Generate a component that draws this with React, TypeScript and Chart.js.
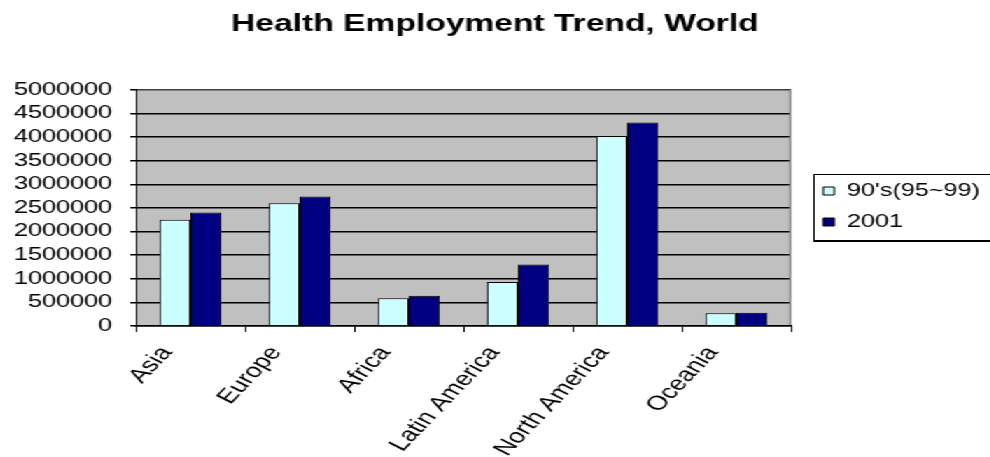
import React, { useEffect, useRef } from 'react';
import { Chart, registerables } from 'chart.js';

Chart.register(...registerables);

// ---- data ----
const categories = ['Asia', 'Europe', 'Africa', 'Latin America', 'North America', 'Oceania'];
const seriesNames = ["90's(95~99)", '2001'];
const values90s = [2250000, 2600000, 585000, 930000, 4020000, 270000];
const values2001 = [2400000, 2740000, 640000, 1300000, 4310000, 280000];
const yMin = 0;
const yMax = 5000000;
const yStep = 500000;
const titleText = 'Health Employment Trend, World';

// ---- layout / style ----
const STRETCH = 1.4;
const W = 707;
const H = 457;
const FONT = "'Liberation Sans', Arial, Helvetica, sans-serif";
const Y_AXIS_W = 97;
const X_AXIS_H = 131;
const LEGEND_W = 142;
const LEGEND_PAD = 13;
const LEGEND_LEFT = 588 - LEGEND_PAD;
const LEGEND_TOP = 169;
const LEGEND_BOX = { left: 581, top: 174, right: 730, bottom: 240 };

const decorPlugin = {
  id: 'decor',
  beforeLayout(chart: any) {
    const lg = chart.legend;
    if (lg && !lg.__patched) {
      const orig = lg.fit.bind(lg);
      lg.fit = function () {
        orig();
        this.width = LEGEND_W;
      };
      lg.__patched = true;
    }
  },
  afterLayout(chart: any) {
    const lg = chart.legend;
    if (lg) {
      lg.left = LEGEND_LEFT;
      lg.top = LEGEND_TOP;
    }
  },
  beforeDraw(chart: any) {
    const { ctx, chartArea: a } = chart;
    ctx.save();
    ctx.fillStyle = '#ffffff';
    ctx.fillRect(0, 0, chart.width, chart.height);
    ctx.fillStyle = '#c0c0c0';
    ctx.fillRect(a.left, a.top, a.right - a.left, a.bottom - a.top);
    // legend frame
    const b = LEGEND_BOX;
    ctx.fillStyle = '#ffffff';
    ctx.fillRect(b.left, b.top, b.right - b.left, b.bottom - b.top);
    ctx.strokeStyle = '#000000';
    ctx.lineWidth = 1;
    ctx.strokeRect(b.left + 0.5, b.top + 0.5, b.right - b.left, b.bottom - b.top);
    ctx.beginPath();
    ctx.moveTo(b.left, b.bottom + 1.5);
    ctx.lineTo(b.right, b.bottom + 1.5);
    ctx.stroke();
    ctx.restore();
  },
  afterDatasetsDraw(chart: any) {
    const { ctx, chartArea: a } = chart;
    ctx.save();
    ctx.strokeStyle = '#808080';
    ctx.lineWidth = 1.5;
    ctx.beginPath();
    ctx.moveTo(a.left + 1, a.top + 0.5);
    ctx.lineTo(a.right - 0.5, a.top + 0.5);
    ctx.lineTo(a.right - 0.5, a.bottom - 1);
    ctx.stroke();
    ctx.restore();
  },
};

export default function App() {
  const ref = useRef<HTMLCanvasElement | null>(null);

  useEffect(() => {
    document.body.style.margin = '0';
    const canvas = ref.current;
    if (!canvas) return;
    const chart = new Chart(canvas, {
      type: 'bar',
      data: {
        labels: categories,
        datasets: [
          {
            label: seriesNames[0],
            data: values90s,
            backgroundColor: '#ccffff',
            borderColor: '#000000',
            borderWidth: 1,
          },
          {
            label: seriesNames[1],
            data: values2001,
            backgroundColor: '#000080',
            borderColor: '#000000',
            borderWidth: 1,
          },
        ],
      },
      options: {
        responsive: false,
        animation: false,
        devicePixelRatio: 1,
        layout: { padding: 0 },
        datasets: {
          bar: { categoryPercentage: 0.568, barPercentage: 1.0 },
        },
        plugins: {
          title: {
            display: true,
            text: titleText,
            color: '#000000',
            font: { family: FONT, size: 24, weight: 'bold' },
            padding: { top: 10, bottom: 51 },
          },
          legend: {
            position: 'right',
            align: 'start',
            labels: {
              color: '#000000',
              font: { family: FONT, size: 18 },
              boxWidth: 8,
              boxHeight: 8,
              padding: LEGEND_PAD,
            },
          },
          tooltip: { enabled: false },
        },
        scales: {
          x: {
            offset: true,
            grid: {
              display: true,
              offset: true,
              drawOnChartArea: false,
              drawTicks: true,
              tickLength: 6,
              color: '#000000',
              lineWidth: 1,
            },
            border: { display: true, color: '#000000', width: 1.5 },
            ticks: {
              color: '#000000',
              font: { family: FONT, size: 20 },
              autoSkip: false,
              minRotation: 55,
              maxRotation: 55,
              padding: 10,
              labelOffset: -17,
            },
            afterFit(scale: any) {
              scale.height = X_AXIS_H;
            },
          },
          y: {
            min: yMin,
            max: yMax,
            grid: {
              color: '#000000',
              lineWidth: 1.5,
              tickLength: 4,
              drawTicks: true,
            },
            border: { display: true, color: '#000000', width: 1 },
            ticks: {
              stepSize: yStep,
              autoSkip: false,
              color: '#000000',
              font: { family: FONT, size: 18 },
              padding: 13,
              callback: (v: any) => String(v),
            },
            afterFit(scale: any) {
              scale.width = Y_AXIS_W;
            },
          },
        },
      },
      plugins: [decorPlugin],
    });
    return () => chart.destroy();
  }, []);

  return (
    <div
      style={{
        position: 'fixed',
        left: 0,
        top: 0,
        width: W,
        height: H,
        transform: `scaleX(${STRETCH})`,
        transformOrigin: 'left top',
        background: '#ffffff',
      }}
    >
      <canvas ref={ref} width={W} height={H} style={{ display: 'block', width: W, height: H }} />
    </div>
  );
}
